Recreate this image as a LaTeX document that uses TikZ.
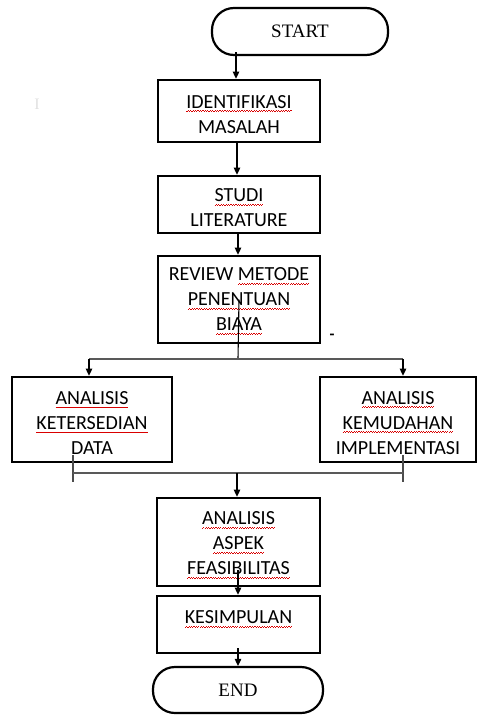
\documentclass[tikz,border=0pt]{standalone}
\usepackage{fontspec}
\setmainfont{Liberation Serif}
\newfontfamily\carl{Carlito}
\usetikzlibrary{arrows.meta}
\newcommand\rw[1]{\setbox0=\hbox{#1}\leavevmode\rlap{\color{red!85!black}\xleaders\hbox{\rule[-3.6pt]{1.2pt}{0.6pt}\rule[-2.9pt]{1.2pt}{0.6pt}}\hskip\wd0}#1}
\newcommand\tp{\rule{0pt}{19.5pt}}
\newcommand\tq{\rule{0pt}{16pt}}
\newcommand\bt{\rule[-14pt]{0pt}{14pt}}
\begin{document}
\begin{tikzpicture}[x=1pt,y=-1pt,
  box/.style={draw, line width=2.7pt, inner sep=0pt, align=center, font=\carl\fontsize{20}{25}\selectfont},
  term/.style={draw, line width=2.2pt, rounded corners=22pt, inner sep=0pt, font=\fontsize{19}{22}\selectfont},
  arr/.style={line width=1.1pt, -{Triangle[length=7pt,width=6.5pt]}},
  ln/.style={line width=1.1pt},
  hl/.style={line width=1.5pt, draw=black!65},
]
\useasboundingbox (0,0) rectangle (478,715);

\node[term, minimum width=176pt, minimum height=47pt] (start) at (300,31.5) {START};
\node[box, minimum width=162pt, minimum height=62pt] (ident) at (239,111) {\tp\rw{IDENTIFIKASI}\\MASALAH};
\node[box, minimum width=162pt, minimum height=57pt] (studi) at (239,204.5) {\tp\rw{STUDI}\\LITERATURE};
\node[box, minimum width=162pt, minimum height=87pt] (review) at (239,299.5) {\tq REVIEW \rw{METODE}\\\rw{PENENTUAN}\\\rw{BIAYA}};
\node[box, minimum width=160pt, minimum height=85pt] (kd) at (92,419.5) {\tp\rw{ANALISIS}\\\rw{KETERSEDIAN}\\DATA};
\node[box, minimum width=156pt, minimum height=85pt] (km) at (398,419.5) {\tp\rw{ANALISIS}\\\rw{KEMUDAHAN}\\IMPLEMENTASI};
\node[box, minimum width=163pt, minimum height=88pt] (aspek) at (238.5,542) {\tp\rw{ANALISIS}\\\rw{ASPEK}\\\rw{FEASIBILITAS}};
\node[box, minimum width=163pt, minimum height=57pt] (kes) at (238.5,624.5) {\rw{KESIMPULAN}\bt};
\node[term, minimum width=170pt, minimum height=46pt] (end) at (238,690) {END};

\node[text=black!12, font=\fontsize{16}{16}\selectfont] (faint) at (37,104) {I};
\node[font=\carl\bfseries\fontsize{16}{16}\selectfont] (dash) at (332,337) {-};

% connectors
\coordinate (s1) at (236,52);
\draw[arr] (s1) -- (s1 |- ident.north);
\draw[arr] (ident.south -| 237,0) -- (studi.north -| 237,0);
\draw[arr] (studi.south -| 238,0) -- (review.north -| 238,0);

\coordinate (split) at (238,359);
\coordinate (sl) at (89,359);
\coordinate (sr) at (403,359);
\draw[ln] (review.center) -- (split);
\draw[hl] (sl) -- (sr);
\draw[arr] (sl) -- (sl |- kd.north);
\draw[arr] (sr) -- (sr |- km.north);

\coordinate (kdt) at (73,455);
\coordinate (kdb) at (73,482);
\coordinate (kmt) at (403,455);
\coordinate (kmb) at (403,482);
\coordinate (jl) at (73,473);
\coordinate (jr) at (403,473);
\coordinate (jc) at (237,473);
\draw[ln, draw=black!70] (kdt) -- (kdb);
\draw[ln, draw=black!70] (kmt) -- (kmb);
\draw[hl] (jl) -- (jr);
\draw[arr] (jc) -- (jc |- aspek.north);

\coordinate (a1) at (238,570);
\draw[arr] (a1) -- (a1 |- kes.north);
\coordinate (k1) at (238,648);
\draw[arr] (k1) -- (k1 |- end.north);
\end{tikzpicture}
\end{document}
